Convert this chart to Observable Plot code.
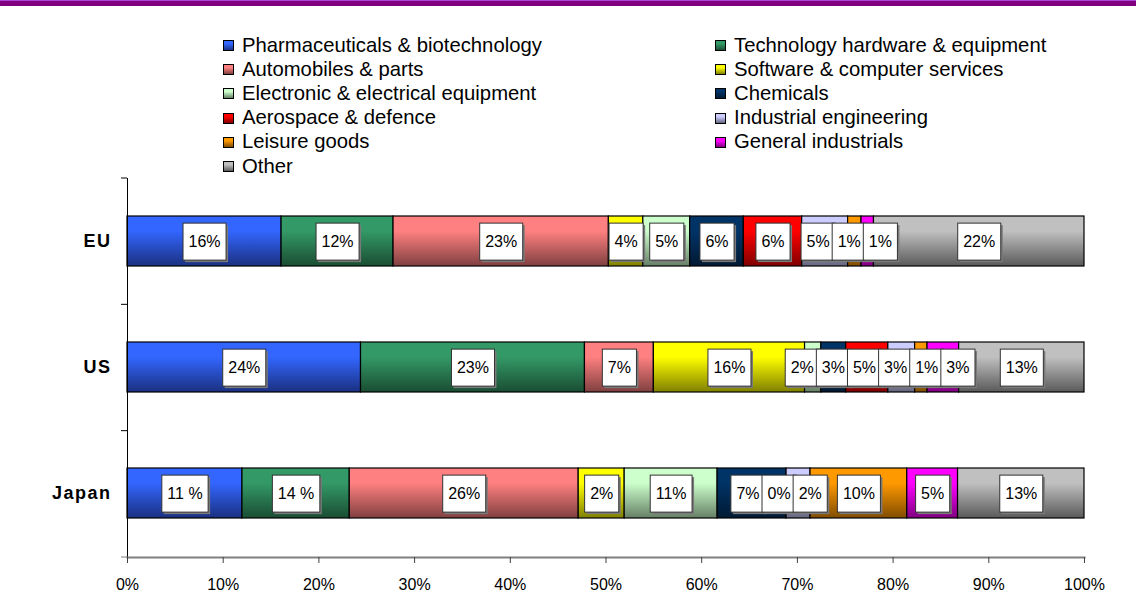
<!DOCTYPE html>
<html>
<head>
<meta charset="utf-8">
<script src="https://cdn.jsdelivr.net/npm/d3@7"></script>
<script src="https://cdn.jsdelivr.net/npm/@observablehq/plot@0.6"></script>
<style>
  body { margin: 0; background: #fff; font-family: Arial, "Liberation Sans", sans-serif; }
  #wrap { position: relative; width: 1136px; height: 608px; overflow: hidden; background: #fff; }
  #topbar { height: 5px; border-top: 1px solid #a64ad4; background: #800080; }
  #header { position: relative; height: 170px; }
  #legend { position: absolute; left: 223px; top: 27px; display: grid;
            grid-template-columns: 492px auto; grid-auto-rows: 24.2px;
            font-size: 20.3px; color: #000; }
  .item { display: flex; align-items: center; white-space: nowrap; }
  .sw { width: 9px; height: 9px; border: 1px solid #000; margin-right: 8px; margin-top: 1px; flex: none; }
  .yax text { letter-spacing: 1.5px; }
</style>
</head>
<body>
<div id="wrap">
  <div id="topbar"></div>
  <div id="header"><div id="legend"></div></div>
  <div id="chart"></div>
</div>
<script>
// ---------- data ----------
const countries = ["EU", "US", "Japan"];
const sectors = [
  "Pharmaceuticals & biotechnology",
  "Technology hardware & equipment",
  "Automobiles & parts",
  "Software & computer services",
  "Electronic & electrical equipment",
  "Chemicals",
  "Aerospace & defence",
  "Industrial engineering",
  "Leisure goods",
  "General industrials",
  "Other"
];
const euValues    = [16.1, 11.7, 22.5, 3.6, 4.9, 5.6, 6.1, 4.8, 1.4, 1.3, 22.0];
const usValues    = [24.4, 23.4, 7.2, 15.8, 1.7, 2.6, 4.4, 2.8, 1.3, 3.3, 13.1];
const japanValues = [12.0, 11.2, 23.9, 4.8, 9.7, 7.2, 0.0, 2.5, 10.1, 5.3, 13.2];
const euLabels    = ["16%", "12%", "23%", "4%", "5%", "6%", "6%", "5%", "1%", "1%", "22%"];
const usLabels    = ["24%", "23%", "7%", "16%", "2%", "3%", "5%", "3%", "1%", "3%", "13%"];
const japanLabels = ["11 %", "14 %", "26%", "2%", "11%", "7%", "0%", "2%", "10%", "5%", "13%"];
const xTicks = [0, 0.1, 0.2, 0.3, 0.4, 0.5, 0.6, 0.7, 0.8, 0.9, 1.0];

// ---------- palette ----------
const topColors    = ["#3366ff", "#339966", "#ff8080", "#ffff00", "#ccffcc", "#003366", "#ff0000", "#ccccff", "#ff9900", "#ff00ff", "#c0c0c0"];
const bottomColors = ["#1a3080", "#1a4d33", "#804040", "#808000", "#668066", "#001a33", "#800000", "#666680", "#804d00", "#800080", "#5a5a5a"];

// ---------- legend ----------
const legend = document.getElementById("legend");
sectors.forEach((s, i) => {
  const item = document.createElement("div");
  item.className = "item";
  const sw = document.createElement("span");
  sw.className = "sw";
  sw.style.background = `linear-gradient(to bottom, ${topColors[i]} 0%, ${topColors[i]} 30%, ${bottomColors[i]} 100%)`;
  const t = document.createElement("span");
  t.textContent = s;
  item.appendChild(sw); item.appendChild(t);
  legend.appendChild(item);
});

// ---------- layout ----------
const W = 1136, H = 432, mL = 127, mR = 52, mT = 2, mB = 51;
const unitPx = W - mL - mR;

const valueSets = {EU: euValues, US: usValues, Japan: japanValues};
const labelSets = {EU: euLabels, US: usLabels, Japan: japanLabels};

const ctx = document.createElement("canvas").getContext("2d");
ctx.font = "16px Arial";

const rows = [];
countries.forEach(c => {
  const vals = valueSets[c];
  const total = d3.sum(vals);
  let cum = 0;
  const items = [];
  vals.forEach((v, i) => {
    const x1 = cum / total, x2 = (cum + v) / total;
    cum += v;
    const r = {country: c, sector: sectors[i], value: v, label: labelSets[c][i],
               x1, x2, lx: (x1 + x2) / 2,
               w: ctx.measureText(labelSets[c][i]).width + 11};
    rows.push(r); items.push(r);
  });
  // spread overlapping label boxes apart
  for (let it = 0; it < 300; it++) {
    for (let i = 0; i < items.length - 1; i++) {
      const a = items[i], b = items[i + 1];
      const need = ((a.w + b.w) / 2 - 3) / unitPx;
      const gap = b.lx - a.lx;
      if (gap < need) { const d = (need - gap) / 2; a.lx -= d; b.lx += d; }
    }
  }
});

const plot = Plot.plot({
  width: W, height: H,
  marginLeft: mL, marginRight: mR, marginTop: mT, marginBottom: mB,
  style: {fontFamily: "Arial, 'Liberation Sans', sans-serif", fontSize: "16px", background: "#fff", color: "#000", overflow: "visible"},
  x: {domain: [0, 1], label: null},
  y: {domain: countries, paddingInner: 0.6, paddingOuter: 0.3, label: null},
  color: {domain: sectors, range: sectors.map((s, i) => `url(#grad${i})`)},
  marks: [
    Plot.barX(rows, {x1: "x1", x2: "x2", y: "country", fill: "sector", stroke: "#000", strokeWidth: 1.2}),
    Plot.frame({anchor: "left", stroke: "#000", strokeWidth: 1}),
    Plot.frame({anchor: "bottom", stroke: "#808080", strokeWidth: 2}),
    Plot.axisX({ticks: xTicks, tickFormat: d3.format(".0%"), tickSize: 6, tickPadding: 15, fontSize: 16, stroke: "#404040", label: null}),
    Plot.axisY({tickSize: 0, tickPadding: 16, fontSize: 18, fontWeight: "bold", label: null, className: "yax"}),
    Plot.text(rows, {x: "lx", y: "country", text: "label", fontSize: 16, fill: "#000", className: "seglabel"})
  ]
});

document.getElementById("chart").appendChild(plot);
const svg = d3.select(plot);

// gradients
const defs = svg.insert("defs", ":first-child");
sectors.forEach((s, i) => {
  const g = defs.append("linearGradient").attr("id", "grad" + i)
    .attr("x1", 0).attr("y1", 0).attr("x2", 0).attr("y2", 1);
  g.append("stop").attr("offset", "0").attr("stop-color", topColors[i]);
  g.append("stop").attr("offset", "0.3").attr("stop-color", topColors[i]);
  g.append("stop").attr("offset", "1").attr("stop-color", bottomColors[i]);
});

// y-axis tick marks at category boundaries
const ys = plot.scale("y");
const [r0, r1] = ys.range;
const n = countries.length;
for (let i = 0; i <= n; i++) {
  const y = r0 + i * (r1 - r0) / n;
  svg.append("line").attr("x1", mL - 6).attr("x2", mL).attr("y1", y).attr("y2", y)
    .attr("stroke", i === n ? "#808080" : "#000").attr("stroke-width", 1);
}

// label boxes with shadow
svg.selectAll("g.seglabel text").each(function () {
  const b = this.getBBox();
  const tr = this.getAttribute("transform");
  const cy = b.y + b.height / 2;
  const bx = b.x - 5.5, bw = b.width + 11, bh = 37, by = cy - bh / 2 + 0.5;
  const NS = "http://www.w3.org/2000/svg";
  const sh = document.createElementNS(NS, "rect");
  sh.setAttribute("x", bx + 2); sh.setAttribute("y", by + 2);
  sh.setAttribute("width", bw); sh.setAttribute("height", bh);
  sh.setAttribute("fill", "#7a7a7a");
  if (tr) sh.setAttribute("transform", tr);
  const box = document.createElementNS(NS, "rect");
  box.setAttribute("x", bx); box.setAttribute("y", by);
  box.setAttribute("width", bw); box.setAttribute("height", bh);
  box.setAttribute("fill", "#fff"); box.setAttribute("stroke", "#333"); box.setAttribute("stroke-width", 1);
  if (tr) box.setAttribute("transform", tr);
  this.parentNode.insertBefore(sh, this);
  this.parentNode.insertBefore(box, this);
});
</script>
</body>
</html>
